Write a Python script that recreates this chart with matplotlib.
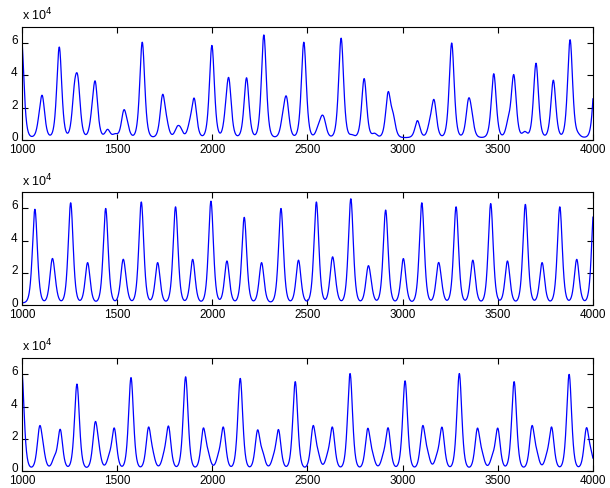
import numpy as np
import matplotlib
matplotlib.use('Agg')
import matplotlib.pyplot as plt
import matplotlib.transforms as mtransforms
from matplotlib.ticker import FuncFormatter

plt.rcParams['font.family'] = ['Liberation Sans', 'DejaVu Sans']

# peak centres (time) and heights (x 1e4), one set per panel
top_t = [997, 1092, 1107, 1196, 1276, 1294, 1368, 1385, 1450, 1490, 1535, 1552,
         1632, 1739, 1760, 1815, 1832, 1882, 1905, 1998, 2072, 2087, 2180, 2271,
         2372, 2390, 2481, 2555, 2574, 2588, 2677, 2734, 2798, 2853, 2924, 2950,
         3078, 3143, 3165, 3258, 3346, 3362, 3479, 3555, 3584, 3642, 3701, 3792,
         3880, 3922, 4015]
top_h = [6.2, 0.6, 2.3, 5.6, 2.3, 2.9, 0.7, 3.2, 0.5, 0.2, 1.5, 0.5,
         5.9, 2.5, 0.6, 0.5, 0.45, 0.6, 2.3, 5.7, 0.8, 3.3, 3.7, 6.35,
         0.9, 2.2, 5.9, 0.4, 0.8, 0.75, 6.15, 0.15, 3.65, 0.25, 2.65, 1.1,
         1.05, 0.6, 2.2, 5.85, 2.0, 0.9, 3.95, 0.8, 3.8, 0.35, 4.6, 3.55,
         6.05, 0.15, 4.8]

mid_t = [960, 1068, 1159, 1172, 1256, 1345, 1440, 1531, 1544, 1627, 1713, 1807, 1897,
         1993, 2077, 2168, 2259, 2361, 2453, 2547, 2631, 2644, 2728, 2819, 2832,
         2911, 3004, 3101, 3188, 3201, 3281, 3369, 3463, 3551, 3645, 3733, 3826,
         3915, 4006]
mid_h = [0.2, 5.8, 2.45, 0.5, 6.2, 2.5, 5.85, 2.4, 0.5, 6.25, 2.5, 5.95, 2.7,
         6.3, 2.6, 5.3, 2.5, 5.85, 2.65, 6.25, 2.55, 0.5, 6.45, 2.0, 0.5,
         5.75, 2.75, 6.2, 2.2, 0.5, 5.95, 2.65, 6.15, 2.6, 6.1, 2.5, 5.95,
         2.7, 6.0]

bot_t = [998, 1093, 1111, 1170, 1201, 1289, 1385, 1403, 1458, 1485, 1573, 1665, 1688,
         1745, 1770, 1860, 1953, 1978, 2032, 2058, 2147, 2238, 2265, 2322, 2348,
         2436, 2530, 2555, 2605, 2631, 2724, 2817, 2842, 2898, 2924, 3013, 3106,
         3131, 3180, 3207, 3298, 3393, 3418, 3472, 3500, 3586, 3680, 3705, 3757,
         3783, 3875, 3966, 3990]
bot_h = [6.2, 2.4, 0.7, 0.55, 2.4, 5.25, 2.65, 0.7, 0.55, 2.45, 5.65, 2.45, 0.6,
         0.55, 2.55, 5.7, 2.4, 0.7, 0.55, 2.5, 5.6, 2.3, 0.75, 0.5, 2.35,
         5.4, 2.55, 0.7, 0.55, 2.5, 5.9, 2.4, 0.6, 0.55, 2.45, 5.45, 2.55,
         0.7, 0.55, 2.5, 5.9, 2.4, 0.65, 0.55, 2.45, 5.4, 2.55, 0.7, 0.55,
         2.5, 5.85, 2.4, 0.7]

panels = [(top_t, top_h), (mid_t, mid_h), (bot_t, bot_h)]
t = np.arange(1000, 4001, 1.0)


def trace(centres, heights, w=17.0, base=0.15):
    y = np.full_like(t, base)
    for c, h in zip(centres, heights):
        y += h / np.cosh((t - c) / w) ** 2
    return y * 1e4


fig = plt.figure(figsize=(6.1, 4.88), dpi=100)
boxes = [(0.036, 0.713, 0.936, 0.232),
         (0.036, 0.374, 0.936, 0.232),
         (0.036, 0.034, 0.936, 0.232)]

# nudge y tick labels up a little so "0" does not sit on "1000"
lift = mtransforms.ScaledTranslation(0, 2.5 / 72, fig.dpi_scale_trans)

for (c, h), box in zip(panels, boxes):
    ax = fig.add_axes(box)
    ax.plot(t, trace(c, h), color='#0000ff', lw=0.9)
    ax.set_xlim(1000, 4000)
    ax.set_ylim(0, 7e4)
    ax.set_xticks([1000, 1500, 2000, 2500, 3000, 3500, 4000])
    ax.set_yticks([0, 2e4, 4e4, 6e4])
    ax.yaxis.set_major_formatter(FuncFormatter(lambda v, p: f'{v / 1e4:.0f}'))
    ax.tick_params(direction='in', top=True, right=True, labelsize=8.5, length=4)
    ax.tick_params(axis='x', pad=2.5)
    ax.tick_params(axis='y', pad=3)
    for lab in ax.get_yticklabels():
        lab.set_transform(lab.get_transform() + lift)
    for s in ax.spines.values():
        s.set_linewidth(0.8)
    ax.text(0.0, 1.03, r'x 10$^{4}$', transform=ax.transAxes, fontsize=9,
            ha='left', va='bottom')

fig.savefig('out.png', dpi=100)
